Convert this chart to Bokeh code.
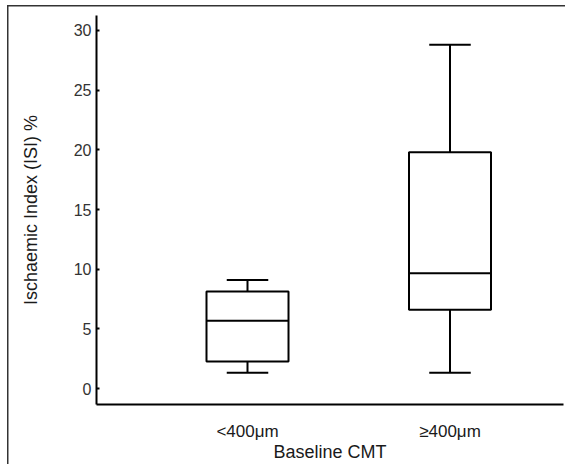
from bokeh.plotting import figure
from bokeh.models import Range1d, FixedTicker
from bokeh.embed import file_html
from bokeh.resources import INLINE

# Data
groups = ["<400μm", "≥400μm"]
positions = [1, 2]
lower_whisker = [1.33, 1.33]
q1 = [2.27, 6.6]
median = [5.69, 9.67]
q3 = [8.14, 19.8]
upper_whisker = [9.1, 28.8]
y_ticks = [0, 5, 10, 15, 20, 25, 30]

box_w = 0.405
cap_w = 0.205

p = figure(width=565, height=464,
           x_range=Range1d(0.2543, 2.5605), y_range=Range1d(-1.333, 31.25),
           output_backend="svg", toolbar_location=None,
           min_border_left=96, min_border_right=2,
           min_border_top=15, min_border_bottom=58)
p.grid.visible = False
p.outline_line_color = None
p.background_fill_color = "white"
p.border_fill_alpha = 0
# outer frame line (only the top and left edges fall inside the picture)
p.styles = {
    "background": ("linear-gradient(#333333, #333333) 7px 5px / 1.5px 100% no-repeat, "
                   "linear-gradient(#333333, #333333) 7px 5px / 100% 1.5px no-repeat, white"),
}

lw = 2
# whiskers
p.segment(x0=positions, y0=q3, x1=positions, y1=upper_whisker, line_color="black", line_width=lw)
p.segment(x0=positions, y0=lower_whisker, x1=positions, y1=q1, line_color="black", line_width=lw)
# caps
p.segment(x0=[x - cap_w / 2 for x in positions], y0=upper_whisker,
          x1=[x + cap_w / 2 for x in positions], y1=upper_whisker, line_color="black", line_width=lw)
p.segment(x0=[x - cap_w / 2 for x in positions], y0=lower_whisker,
          x1=[x + cap_w / 2 for x in positions], y1=lower_whisker, line_color="black", line_width=lw)
# boxes
p.vbar(x=positions, width=box_w, bottom=q1, top=q3, fill_color="white",
       line_color="black", line_width=lw)
# medians
p.segment(x0=[x - box_w / 2 for x in positions], y0=median,
          x1=[x + box_w / 2 for x in positions], y1=median, line_color="black", line_width=lw)

# y axis
ya = p.yaxis[0]
ya.ticker = FixedTicker(ticks=y_ticks)
ya.major_tick_in = 3
ya.major_tick_out = 0
ya.minor_tick_line_color = None
ya.axis_line_width = 2
ya.axis_line_color = "black"
ya.major_tick_line_width = 2
ya.major_tick_line_color = "black"
ya.major_label_text_font = "Liberation Sans"
ya.major_label_text_font_size = "16px"
ya.major_label_text_color = "#333333"
ya.major_label_standoff = 5
ya.axis_label = "Ischaemic Index (ISI) %"
ya.axis_label_text_font = "Liberation Sans"
ya.axis_label_text_font_size = "18px"
ya.axis_label_text_font_style = "normal"
ya.axis_label_text_color = "#1a1a1a"
ya.axis_label_standoff = 30

# x axis
xa = p.xaxis[0]
xa.ticker = FixedTicker(ticks=positions)
xa.major_label_overrides = {positions[0]: groups[0], positions[1]: groups[1]}
xa.major_tick_in = 0
xa.major_tick_out = 0
xa.minor_tick_line_color = None
xa.axis_line_width = 2
xa.axis_line_color = "black"
xa.major_label_text_font = "Liberation Sans"
xa.major_label_text_font_size = "17px"
xa.major_label_text_color = "#1a1a1a"
xa.major_label_standoff = 17
xa.axis_label = "Baseline CMT"
xa.axis_label_text_font = "Liberation Sans"
xa.axis_label_text_font_size = "18px"
xa.axis_label_text_font_style = "normal"
xa.axis_label_text_color = "#1a1a1a"
xa.axis_label_standoff = -2

open("out.html", "w").write(file_html(p, INLINE))
